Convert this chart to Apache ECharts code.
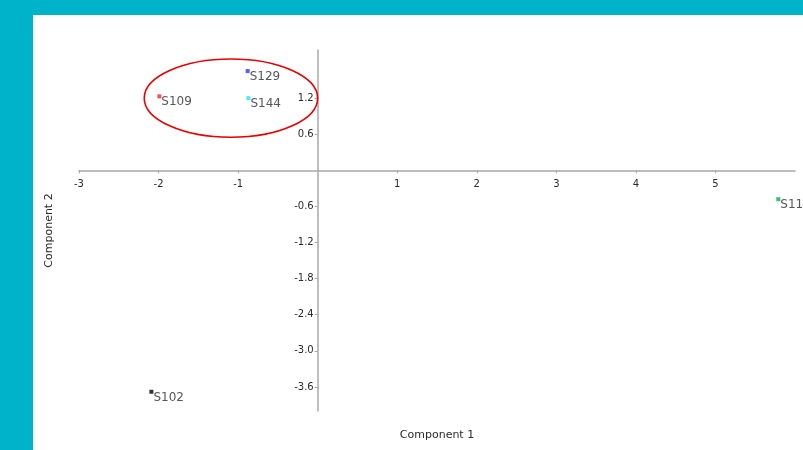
<!DOCTYPE html>
<html><head><meta charset="utf-8">
<script src="https://cdn.jsdelivr.net/npm/echarts@6/dist/echarts.min.js"></script>
<style>
html,body{margin:0;padding:0;background:#00b2ca;width:803px;height:450px;overflow:hidden}
#c{position:absolute;left:33px;top:15px;width:770px;height:435px;background:#fff}
</style>
</head><body><div id="c"></div>
<script>
// Sample scores
const sampleNames = ['S129', 'S144', 'S109', 'S113', 'S102'];
const component1 = [-0.88, -0.87, -1.99, 5.79, -2.09];
const component2 = [1.65, 1.20, 1.23, -0.48, -3.68];
const sampleColors = ['#3333ff', '#22e6f0', '#ff2222', '#00b050', '#000000'];
// Tick labels
const xTicks = [-3, -2, -1, 1, 2, 3, 4, 5];
const yTicks = [-3.6, -3.0, -2.4, -1.8, -1.2, -0.6, 0.6, 1.2];
// Highlight ellipse (data units): centre and radii
const ellipseCenter = [-1.09, 1.20];
const ellipseRadii = [1.09, 0.65];

const xMin = -3, xMax = 6, yMin = -4, yMax = 2;
const G = {left: 46, top: 35, width: 716, height: 361};
// place axes through the origin
const xOffset = -(G.height * (0 - yMin) / (yMax - yMin));
const yOffset = -(G.width * (0 - xMin) / (xMax - xMin));

const chart = echarts.init(document.getElementById('c'), null, {renderer: 'canvas'});
const axisColor = '#a8a8a8';
const txt = '#2a2a2a';
const font = '"DejaVu Sans", sans-serif';

const points = sampleNames.map((n, i) => ({
  name: n,
  value: [component1[i], component2[i]],
  itemStyle: {color: sampleColors[i]}
}));

chart.setOption({
  animation: false,
  grid: Object.assign({containLabel: false, outerBoundsMode: 'none'}, G),
  xAxis: {
    type: 'value', min: xMin, max: xMax, position: 'bottom', offset: xOffset,
    name: 'Component 1', nameLocation: 'middle', nameGap: 259,
    nameTextStyle: {color: txt, fontSize: 11, fontFamily: font},
    axisLine: {onZero: false, lineStyle: {color: axisColor, width: 1.5}},
    axisTick: {show: true, length: 3, inside: false, customValues: xTicks, lineStyle: {color: axisColor}},
    axisLabel: {customValues: xTicks, color: txt, fontSize: 10, fontFamily: font, margin: 9,
      formatter: v => String(v)},
    splitLine: {show: false}
  },
  yAxis: {
    type: 'value', min: yMin, max: yMax, position: 'left', offset: yOffset,
    name: 'Component 2', nameLocation: 'middle', nameGap: 263, nameRotate: 90,
    nameTextStyle: {color: txt, fontSize: 11, fontFamily: font},
    axisLine: {onZero: false, lineStyle: {color: axisColor, width: 1.5}},
    axisTick: {show: true, length: 3, customValues: yTicks, lineStyle: {color: axisColor}},
    axisLabel: {customValues: yTicks, color: txt, fontSize: 10, fontFamily: font, margin: 4,
      formatter: v => v.toFixed(1)},
    splitLine: {show: false}
  },
  series: [
    {
      type: 'scatter',
      symbol: 'rect',
      symbolSize: 4,
      data: points,
      label: {
        show: true,
        formatter: p => p.name,
        position: [4, 2],
        align: 'left',
        verticalAlign: 'top',
        color: txt,
        fontSize: 12,
        fontFamily: font
      },
      z: 3
    },
    {
      type: 'custom',
      silent: true,
      clip: false,
      data: [[ellipseCenter[0], ellipseCenter[1], ellipseRadii[0], ellipseRadii[1]]],
      renderItem: function (params, api) {
        const c = api.coord([api.value(0), api.value(1)]);
        const e = api.coord([api.value(0) + api.value(2), api.value(1) + api.value(3)]);
        return {
          type: 'ellipse',
          shape: {cx: c[0], cy: c[1], rx: Math.abs(e[0] - c[0]), ry: Math.abs(c[1] - e[1])},
          style: {fill: null, stroke: '#e60000', lineWidth: 1.6}
        };
      },
      z: 4
    }
  ]
});
</script>
</body></html>
